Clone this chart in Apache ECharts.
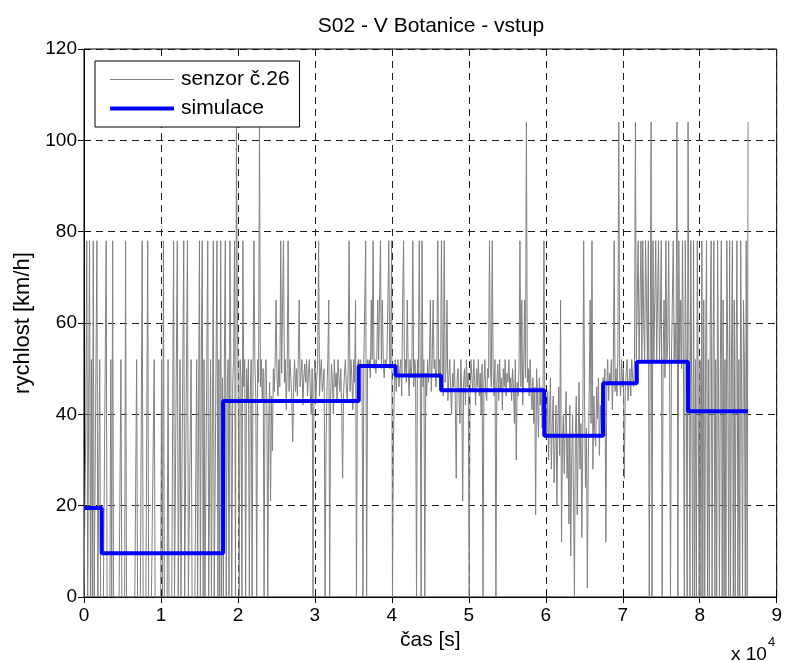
<!DOCTYPE html>
<html>
<head>
<meta charset="utf-8">
<title>S02 - V Botanice - vstup</title>
<script src="https://cdn.jsdelivr.net/npm/echarts@6/dist/echarts.min.js"></script>
<style>
  html, body { margin: 0; padding: 0; background: #fff; }
  #chart { width: 785px; height: 661px; }
</style>
</head>
<body>
<div id="chart"></div>
<script>
// Sensor no. 26 speed readings [km/h], one reading every sampleStep seconds
const sampleStep = 120;
const sensorValues = [
  0,0,40,78,0,0,78,0,52,0,78,0,0,0,78,0,0,52,0,0,
  0,0,0,0,78,0,0,0,0,52,0,78,0,0,0,0,0,0,0,0,
  52,0,0,0,0,78,0,0,0,0,0,0,0,0,0,0,0,52,0,0,
  0,0,0,78,0,0,0,0,0,78,0,0,0,0,0,0,52,0,0,0,
  0,0,0,0,52,0,78,0,0,0,0,52,0,0,0,0,0,78,0,0,
  0,78,0,0,52,0,0,0,78,0,0,0,78,0,0,0,52,0,0,0,
  0,0,52,0,0,78,0,52,78,0,52,0,0,0,78,0,0,52,0,0,
  78,0,0,0,78,0,52,0,78,0,48,0,52,78,0,45,52,0,78,50,
  0,47,52,78,0,104,65,44,0,52,48,0,78,46,52,0,50,43,52,0,
  45,52,0,49,78,51,44,0,52,47,104,46,52,43,50,0,48,52,42,0,
  38,47,21,44,32,50,45,52,65,48,44,52,46,78,49,65,78,47,52,41,
  50,78,45,52,48,43,34,47,52,45,50,44,52,65,46,49,52,42,48,51,
  47,52,44,49,52,45,40,50,0,46,52,43,48,51,78,44,49,52,45,47,
  50,0,33,45,52,65,0,44,51,47,40,52,46,49,43,52,48,45,50,41,
  26,44,49,52,46,43,50,78,45,52,48,41,52,47,65,0,50,52,49,52,
  52,50,0,52,65,78,0,52,51,52,48,65,52,78,50,52,49,52,65,52,
  52,78,50,65,52,48,52,51,52,65,78,50,52,78,0,33,47,52,45,49,
  52,46,50,52,44,65,78,49,52,47,65,50,44,52,48,51,78,46,52,50,
  0,52,48,78,50,0,78,46,52,0,49,44,52,47,51,65,45,52,65,50,
  52,46,50,78,48,52,45,78,49,44,78,47,50,65,43,48,52,45,40,49,
  46,52,43,26,48,50,44,38,52,45,21,47,50,42,52,46,49,0,44,52,
  48,45,52,47,42,50,46,52,44,49,40,51,0,47,52,45,43,50,48,78,
  50,46,78,49,44,52,0,47,51,43,52,45,48,41,50,46,52,44,49,47,
  52,45,48,43,50,46,38,52,30,47,44,50,78,46,65,42,49,65,48,104,
  47,50,44,52,45,41,48,38,46,18,50,44,35,48,42,46,37,44,78,40,
  42,36,45,30,40,48,28,38,44,25,34,42,20,37,46,31,65,12,33,40,
  27,38,45,26,35,16,42,9,30,40,22,0,36,44,18,33,47,28,38,13,
  35,78,42,24,37,2,30,45,65,38,78,28,44,36,33,46,39,48,31,42,
  36,45,48,44,50,12,46,52,43,49,47,52,41,48,78,45,50,44,52,104,
  48,44,52,46,50,26,45,49,52,43,47,50,44,52,48,46,51,104,52,65,
  78,52,65,78,52,78,60,52,78,65,52,78,0,52,104,0,78,52,65,78,
  52,65,78,52,60,78,0,52,65,48,78,52,55,78,50,0,52,65,78,52,
  60,52,104,0,78,52,65,50,78,52,0,78,52,0,104,52,0,78,45,0,
  78,0,52,0,78,45,0,52,0,78,0,65,0,52,78,0,52,0,60,78,
  0,52,78,0,52,0,78,45,0,52,78,0,65,0,52,0,78,52,0,78,
  0,52,78,0,65,0,52,78,0,52,0,78,45,0,65,52,0,78,0,104
];

// Simulated speed: piecewise-constant levels starting at the given times [s]
const simTimes  = [0, 2300, 18070, 35700, 40470, 46400, 59800, 67440, 71820, 78470, 86280];
const simValues = [19.5, 9.6, 42.9, 50.6, 48.5, 45.3, 35.3, 46.8, 51.5, 40.7, 40.7];

// Axis ranges and tick labels
const xMax = 90000, xStep = 10000;
const yMax = 120, yStep = 20;

const sensorData = sensorValues.map((v, i) => [i * sampleStep, v]);
const simData = simTimes.map((t, i) => [t, simValues[i]]);

const FONT = '"Liberation Sans", Arial, Helvetica, sans-serif';
const gridLine = { show: true, lineStyle: { color: '#1a1a1a', width: 1, type: [7, 5] } };
const boxAxisLine = { show: true, lineStyle: { color: '#000', width: 1 } };
const inTicks = { show: true, inside: true, length: 6, lineStyle: { color: '#000' } };

const chart = echarts.init(document.getElementById('chart'), null, { renderer: 'canvas' });
chart.setOption({
  animation: false,
  backgroundColor: '#ffffff',
  textStyle: { fontFamily: FONT },
  title: {
    text: 'S02 - V Botanice - vstup',
    left: 431,
    top: 16,
    padding: 0,
    textAlign: 'center',
    textStyle: { fontFamily: FONT, fontSize: 21, fontWeight: 'normal', color: '#000' }
  },
  grid: {
    left: 84, right: 7, top: 49, bottom: 64,
    show: true, borderColor: '#000', borderWidth: 1, backgroundColor: 'transparent'
  },
  legend: {
    orient: 'vertical',
    left: 95, top: 61,
    padding: [8, 10, 8, 13],
    itemWidth: 64, itemHeight: 21, itemGap: 8,
    backgroundColor: '#fff',
    borderColor: '#000', borderWidth: 1, borderRadius: 0,
    itemStyle: { opacity: 0 },
    textStyle: { fontFamily: FONT, fontSize: 21, color: '#000', padding: [0, 0, 0, 2] },
    data: [
      { name: 'senzor č.26', lineStyle: { width: 1, color: '#808080' } },
      { name: 'simulace', lineStyle: { width: 4, color: '#0000ff' } }
    ]
  },
  xAxis: [{
    type: 'value', min: 0, max: xMax, interval: xStep,
    name: 'čas [s]', nameLocation: 'middle', nameGap: 28,
    nameTextStyle: { fontFamily: FONT, fontSize: 21, color: '#000' },
    axisLine: boxAxisLine,
    axisTick: inTicks,
    axisLabel: { fontFamily: FONT, fontSize: 19, color: '#000', margin: 9,
                 formatter: v => String(v / xStep) },
    splitLine: gridLine
  }, {
    type: 'value', min: 0, max: xMax, interval: xStep, position: 'top',
    axisLine: boxAxisLine, axisTick: inTicks,
    axisLabel: { show: false }, splitLine: { show: false }
  }],
  yAxis: [{
    type: 'value', min: 0, max: yMax, interval: yStep,
    name: 'rychlost [km/h]', nameLocation: 'middle', nameGap: 50,
    nameTextStyle: { fontFamily: FONT, fontSize: 22, color: '#000' },
    axisLine: boxAxisLine,
    axisTick: inTicks,
    axisLabel: { fontFamily: FONT, fontSize: 19, color: '#000', margin: 7 },
    splitLine: gridLine
  }, {
    type: 'value', min: 0, max: yMax, interval: yStep, position: 'right',
    axisLine: boxAxisLine, axisTick: inTicks,
    axisLabel: { show: false }, splitLine: { show: false }
  }],
  graphic: [
    { type: 'text', left: 731, top: 645,
      style: { text: 'x 10', fontFamily: FONT, fontSize: 19, fill: '#000' } },
    { type: 'text', left: 768, top: 636,
      style: { text: '4', fontFamily: FONT, fontSize: 13, fill: '#000' } }
  ],
  series: [{
    name: 'senzor č.26',
    type: 'line',
    data: sensorData,
    showSymbol: false, symbol: 'none',
    sampling: null,
    lineStyle: { color: '#808080', width: 1 },
    itemStyle: { color: '#808080' },
    z: 2
  }, {
    name: 'simulace',
    type: 'line',
    step: 'end',
    data: simData,
    showSymbol: false, symbol: 'none',
    lineStyle: { color: '#0000ff', width: 4 },
    itemStyle: { color: '#0000ff' },
    z: 3
  }]
});
</script>
</body>
</html>
